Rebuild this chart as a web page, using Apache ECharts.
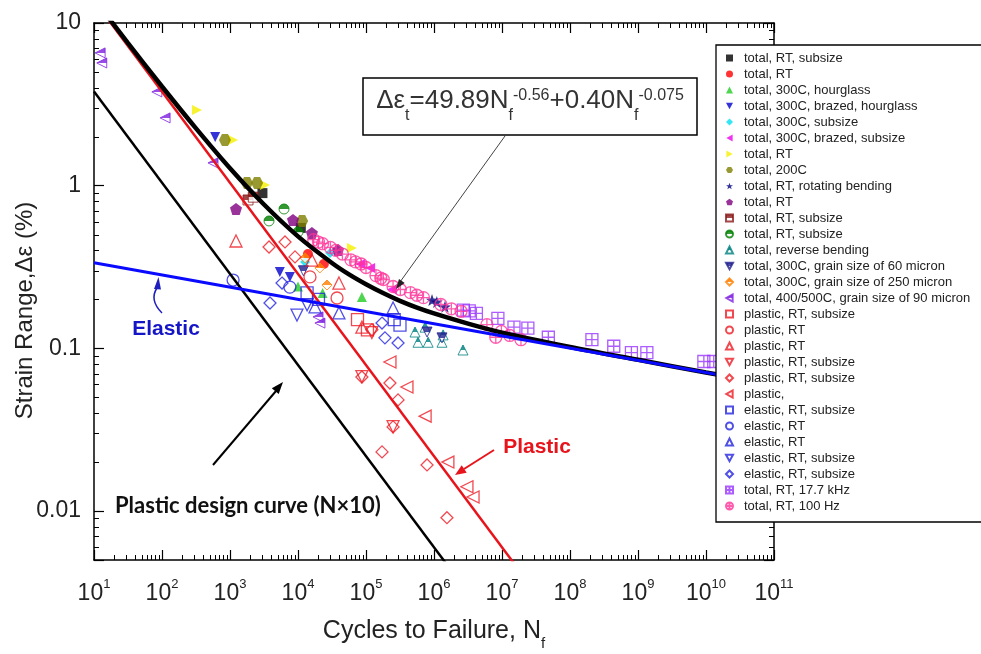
<!DOCTYPE html>
<html>
<head>
<meta charset="utf-8">
<script src="https://cdn.jsdelivr.net/npm/echarts@6/dist/echarts.min.js"></script>
<style>
  html, body { margin: 0; padding: 0; background: #fff; }
  #chart { width: 981px; height: 654px; }
</style>
</head>
<body>
<div id="chart"></div>
<script>
const FONT = "'Liberation Sans', Arial, sans-serif";

// axis ranges and tick labels
const X_MIN = 10, X_MAX = 1e11, Y_MIN = 0.005, Y_MAX = 10;
const xTickExps = [1, 2, 3, 4, 5, 6, 7, 8, 9, 10, 11];
const yTickExps = [-2, -1, 0, 1];
const yTickLabels = ["0.01", "0.1", "1", "10"];

// fitted curves
const totalN = [10, 31.6, 100, 316, 1000, 3162, 1e4, 3.16e4, 5.62e4, 1e5, 1.78e5, 3.16e5, 5.62e5, 1e6, 3.16e6, 1e7, 1e8, 1e9, 1e10, 1e11];
const totalY = [14.1, 7.52, 4.07, 2.25, 1.28, 0.766, 0.488, 0.335, 0.285, 0.248, 0.219, 0.196, 0.178, 0.164, 0.142, 0.125, 0.102, 0.085, 0.071, 0.060];
const elasticN = [10, 1e11];
const elasticY = [0.336, 0.0598];
const plasticN = [10, 2e7];
const plasticY = [13.74, 0.00406];
const designN = [10, 2e6];
const designY = [3.79, 0.00406];

// test data [cycles, strain range %]
const totalRtSubsizeA = [[3000, 0.9], [11000, 0.55]];
const totalRtA = [[14000, 0.38], [24000, 0.33]];
const total300cHourglass = [[10000, 0.24], [23000, 0.219], [87000, 0.207]];
const total300cBrazedHourglass = [[605, 1.99], [5400, 0.295], [7600, 0.275]];
const total300cSubsize = [[12700, 0.34], [29600, 0.385]];
const total300cBrazedSubsize = [[82000, 0.33], [115000, 0.312], [240000, 0.23]];
const totalRtB = [[327, 2.92], [1110, 1.91], [3270, 1.01], [62000, 0.414]];
const total200c = [[843, 1.91], [1780, 1.04], [2500, 1.04], [11500, 0.607]];
const totalRtRotBending = [[935000, 0.198], [1100000, 0.193], [1450000, 0.18]];
const totalRtC = [[1225, 0.719], [8440, 0.615], [16000, 0.512], [38800, 0.403]];
const totalRtSubsizeB = [[1840, 0.817], [2200, 0.85]];
const totalRtSubsizeC = [[3750, 0.607], [6230, 0.719], [10000, 0.519]];
const totalReverseBending = [[526000, 0.126], [582000, 0.109], [740000, 0.135], [820000, 0.109], [1310000, 0.109], [1360000, 0.121], [2670000, 0.0977]];
const total300cGrain60 = [[12000, 0.3], [790000, 0.126], [1310000, 0.116]];
const total300cGrain250 = [[12700, 0.36], [21000, 0.312], [26700, 0.245]];
const total400cGrain90 = [[12.3, 6.55], [13, 5.68], [84, 3.77], [111, 2.61], [562, 1.38], [19700, 0.156], [21000, 0.143]];
const plasticRtSubsizeA = [[75000, 0.15], [105000, 0.13]];
const plasticRtA = [[15000, 0.275], [37500, 0.204]];
const plasticRtB = [[1225, 0.457], [16000, 0.349], [40000, 0.252], [87000, 0.135]];
const plasticRtSubsizeB = [[87000, 0.067], [250000, 0.033], [122000, 0.125]];
const plasticRtSubsizeC = [[3750, 0.42], [6440, 0.451], [9040, 0.365], [122000, 0.13], [87000, 0.0667], [225000, 0.0612], [296000, 0.0482], [250000, 0.0329], [172000, 0.0231], [790000, 0.0192], [1550000, 0.0091]];
const plasticMisc = [[225000, 0.0824], [400000, 0.0579], [740000, 0.0383], [1600000, 0.02], [3050000, 0.0141], [3750000, 0.0122]];
const elasticRtSubsizeA = [[13600, 0.219], [20000, 0.2], [260000, 0.15], [316000, 0.139]];
const elasticRtA = [[1110, 0.263], [7600, 0.238]];
const elasticRtB = [[17800, 0.18], [40000, 0.165], [250000, 0.177]];
const elasticRtSubsizeB = [[9660, 0.16], [13600, 0.185]];
const elasticRtSubsizeC = [[3875, 0.19], [5820, 0.252], [172000, 0.143], [190000, 0.116], [296000, 0.108]];
const total17kHz = [[2700000, 0.172], [3300000, 0.17], [4200000, 0.164], [8700000, 0.153], [15000000, 0.135], [24000000, 0.133], [48000000, 0.117], [210000000, 0.113], [440000000, 0.103], [800000000, 0.094], [1350000000, 0.094], [9300000000, 0.083], [13000000000, 0.083]];
const total100Hz = [[17000, 0.466], [20000, 0.45], [23000, 0.44], [30000, 0.417], [36000, 0.4], [45000, 0.38], [60000, 0.35], [70000, 0.34], [85000, 0.33], [100000, 0.314], [140000, 0.28], [165000, 0.27], [180000, 0.265], [250000, 0.24], [320000, 0.23], [450000, 0.22], [560000, 0.212], [700000, 0.205], [1260000, 0.186], [1800000, 0.175], [2500000, 0.169], [6000000, 0.14], [8100000, 0.117], [9800000, 0.127], [13000000, 0.12], [19000000, 0.113]];

// symbols
const TRI_UP = "triangle";
const TRI_DOWN = "path://M-5,-4.5L5,-4.5L0,4.5Z";
const TRI_LEFT = "path://M4.5,-5L4.5,5L-4.5,0Z";
const TRI_RIGHT = "path://M-4.5,-5L-4.5,5L4.5,0Z";
const HEX = "path://M-5,-8.66L5,-8.66L10,0L5,8.66L-5,8.66L-10,0Z";
const PENT = "path://M0,-10L9.51,-3.09L5.88,8.09L-5.88,8.09L-9.51,-3.09Z";
const STAR = "path://M0,-10L2.35,-3.24L9.51,-3.09L3.8,1.24L5.88,8.09L0,4L-5.88,8.09L-3.8,1.24L-9.51,-3.09L-2.35,-3.24Z";
const GRID_SQ = "path://M-5,-5L5,-5L5,5L-5,5Z M0,-5L0,5 M-5,0L5,0";
const GRID_CIRC = "path://M-5,0A5,5 0 1,1 5,0A5,5 0 1,1 -5,0Z M0,-5L0,5 M-5,0L5,0";

const RED = "#ee1c24", BLUE = "#2424e0";

// name, data, symbol, colour, fill
const markers = [
  ["total, RT, subsize", totalRtSubsizeA, "rect", "#000000", "solid"],
  ["total, RT", totalRtA, "circle", "#ff0000", "solid"],
  ["total, 300C, hourglass", total300cHourglass, TRI_UP, "#22cc22", "solid"],
  ["total, 300C, brazed, hourglass", total300cBrazedHourglass, TRI_DOWN, "#0000cc", "solid"],
  ["total, 300C, subsize", total300cSubsize, "diamond", "#00e0f0", "solid"],
  ["total, 300C, brazed, subsize", total300cBrazedSubsize, TRI_LEFT, "#ee00ee", "solid"],
  ["total, RT", totalRtB, TRI_RIGHT, "#f5f000", "solid"],
  ["total, 200C", total200c, HEX, "#808000", "solid"],
  ["total, RT, rotating bending", totalRtRotBending, STAR, "#000080", "solid"],
  ["total, RT", totalRtC, PENT, "#800080", "solid"],
  ["total, RT, subsize", totalRtSubsizeB, "rect", "#8b1a1a", "half"],
  ["total, RT, subsize", totalRtSubsizeC, "circle", "#008000", "half"],
  ["total, reverse bending", totalReverseBending, TRI_UP, "#008080", "half"],
  ["total, 300C, grain size of 60 micron", total300cGrain60, TRI_DOWN, "#202090", "half"],
  ["total, 300C, grain size of 250 micron", total300cGrain250, "diamond", "#ff8000", "half"],
  ["total, 400/500C, grain size of 90 micron", total400cGrain90, TRI_LEFT, "#8020e0", "half"],
  ["plastic, RT, subsize", plasticRtSubsizeA, "rect", RED, "open"],
  ["plastic, RT", plasticRtA, "circle", RED, "open"],
  ["plastic, RT", plasticRtB, TRI_UP, RED, "open"],
  ["plastic, RT, subsize", plasticRtSubsizeB, TRI_DOWN, RED, "open"],
  ["plastic, RT, subsize", plasticRtSubsizeC, "diamond", RED, "open"],
  ["plastic,", plasticMisc, TRI_LEFT, RED, "open"],
  ["elastic, RT, subsize", elasticRtSubsizeA, "rect", BLUE, "open"],
  ["elastic, RT", elasticRtA, "circle", BLUE, "open"],
  ["elastic, RT", elasticRtB, TRI_UP, BLUE, "open"],
  ["elastic, RT, subsize", elasticRtSubsizeB, TRI_DOWN, BLUE, "open"],
  ["elastic, RT, subsize", elasticRtSubsizeC, "diamond", BLUE, "open"],
  ["total, RT, 17.7 kHz", total17kHz, GRID_SQ, "#9933ff", "open"],
  ["total, RT, 100 Hz", total100Hz, GRID_CIRC, "#ff3399", "open"]
];

// legend names must be unique: pad repeats with trailing spaces
const seen = {};
const legendNames = markers.map((m) => {
  seen[m[0]] = (seen[m[0]] || 0) + 1;
  return m[0] + " ".repeat(seen[m[0]] - 1);
});

function halfFill(c) {
  return {
    type: "linear", x: 0, y: 0, x2: 0, y2: 1,
    colorStops: [
      { offset: 0, color: c }, { offset: 0.5, color: c },
      { offset: 0.5, color: "#ffffff" }, { offset: 1, color: "#ffffff" }
    ]
  };
}

const zip = (a, b) => a.map((v, i) => [v, b[i]]);

const scatterSeries = markers.map((m, i) => {
  const [, data, symbol, color, fill] = m;
  let itemStyle;
  if (fill === "open") itemStyle = { color: "rgba(255,255,255,0)", borderColor: color, borderWidth: 1.3 };
  else if (fill === "half") itemStyle = { color: halfFill(color), borderColor: color, borderWidth: 1 };
  else itemStyle = { color: color };
  const big = fill === "open" || symbol === HEX || symbol === PENT || symbol === STAR;
  return {
    type: "scatter",
    name: legendNames[i],
    data: data,
    symbol: symbol,
    symbolSize: big ? 12 : 10,
    itemStyle: itemStyle,
    silent: true,
    z: 2
  };
});

// minor ticks (2..9 per decade) drawn on all four frame sides
const xMinor = [];
for (let e = 1; e < 11; e++) for (let k = 2; k < 10; k++) xMinor.push([k * Math.pow(10, e), Y_MIN]);
const yMinor = [];
for (let e = -3; e < 1; e++) for (let k = 2; k < 10; k++) {
  const v = k * Math.pow(10, e);
  if (v > Y_MIN && v < Y_MAX) yMinor.push([X_MIN, v]);
}
const TICK_STYLE = { stroke: "#000", lineWidth: 1 };

const minorX = {
  type: "custom", silent: true, clip: false, z: 3, data: xMinor,
  renderItem: (params, api) => {
    const cs = params.coordSys;
    const px = Math.round(api.coord([api.value(0), Y_MIN])[0]) + 0.5;
    return { type: "group", children: [
      { type: "line", shape: { x1: px, y1: cs.y + cs.height, x2: px, y2: cs.y + cs.height - 5 }, style: TICK_STYLE },
      { type: "line", shape: { x1: px, y1: cs.y, x2: px, y2: cs.y + 5 }, style: TICK_STYLE }
    ] };
  }
};
const minorY = {
  type: "custom", silent: true, clip: false, z: 3, data: yMinor,
  renderItem: (params, api) => {
    const cs = params.coordSys;
    const py = Math.round(api.coord([X_MIN, api.value(1)])[1]) + 0.5;
    return { type: "group", children: [
      { type: "line", shape: { x1: cs.x, y1: py, x2: cs.x + 5, y2: py }, style: TICK_STYLE },
      { type: "line", shape: { x1: cs.x + cs.width, y1: py, x2: cs.x + cs.width - 5, y2: py }, style: TICK_STYLE }
    ] };
  }
};

const lineSeries = [
  { type: "line", name: "plastic fit", data: zip(plasticN, plasticY), showSymbol: false, silent: true, z: 3,
    lineStyle: { color: "#e8141c", width: 2.5 } },
  { type: "line", name: "design", data: zip(designN, designY), showSymbol: false, silent: true, z: 3,
    lineStyle: { color: "#000", width: 2.5 } },
  { type: "line", name: "total fit", data: zip(totalN, totalY), showSymbol: false, silent: true, z: 3, smooth: 0.3,
    lineStyle: { color: "#000", width: 4.5 } },
  { type: "line", name: "elastic fit", data: zip(elasticN, elasticY), showSymbol: false, silent: true, z: 3,
    lineStyle: { color: "#0a0aff", width: 3 } }
];

const isDecade = (v) => { const e = Math.log10(v); return Math.abs(e - Math.round(e)) < 1e-6; };

const frameLine = { show: true, lineStyle: { color: "#000", width: 1.5 } };
const majorTick = { show: true, inside: true, length: 10, lineStyle: { color: "#000", width: 1.2 } };

const xBase = { type: "log", min: X_MIN, max: X_MAX, interval: 1, gridIndex: 0, splitLine: { show: false },
  axisLine: frameLine, axisTick: majorTick };
const yBase = { type: "log", min: Y_MIN, max: Y_MAX, splitNumber: 3, gridIndex: 0, splitLine: { show: false },
  axisLine: frameLine, axisTick: majorTick };

const option = {
  animation: false,
  backgroundColor: "#fff",
  grid: { left: 94, top: 23, width: 680, height: 537, containLabel: false, outerBoundsMode: "none" },
  xAxis: [
    Object.assign({}, xBase, {
      position: "bottom",
      name: "{a|Cycles to Failure, N}{s|f}",
      nameLocation: "middle",
      nameGap: 59,
      nameMoveOverlap: false,
      nameTextStyle: {
        rich: {
          a: { fontFamily: FONT, fontSize: 25, lineHeight: 28, verticalAlign: "top", color: "#222" },
          s: { fontFamily: FONT, fontSize: 15, lineHeight: 15, padding: [17, 0, 0, 0], verticalAlign: "top", color: "#222" }
        }
      },
      axisLabel: {
        margin: 18,
        formatter: (v) => {
          const e = Math.round(Math.log10(v));
          return isDecade(v) && xTickExps.indexOf(e) >= 0 ? "{b|10}{s|" + e + "}" : "";
        },
        rich: {
          b: { fontFamily: FONT, fontSize: 23, lineHeight: 27, verticalAlign: "bottom", color: "#222" },
          s: { fontFamily: FONT, fontSize: 13, lineHeight: 16, verticalAlign: "top", color: "#222" }
        }
      }
    }),
    Object.assign({}, xBase, { position: "top", axisLabel: { show: false } })
  ],
  yAxis: [
    Object.assign({}, yBase, {
      position: "left",
      name: "Strain Range,\u0394\u03b5 (%)",
      nameLocation: "middle",
      nameRotate: 90,
      nameGap: 57,
      nameMoveOverlap: false,
      nameTextStyle: { fontFamily: FONT, fontSize: 24, color: "#222", padding: [0, 38, 0, 0] },
      axisLabel: {
        margin: 13,
        fontFamily: FONT, fontSize: 23, color: "#222",
        formatter: (v) => {
          if (!isDecade(v)) return "";
          const i = yTickExps.indexOf(Math.round(Math.log10(v)));
          return i >= 0 ? yTickLabels[i] : "";
        }
      }
    }),
    Object.assign({}, yBase, { position: "right", axisLabel: { show: false } })
  ],
  legend: {
    orient: "vertical",
    left: 716,
    top: 45,
    padding: [5, 60, 8, 9],
    itemGap: 0,
    itemWidth: 7,
    itemHeight: 7,
    selectedMode: false,
    backgroundColor: "#fff",
    borderColor: "#000",
    borderWidth: 1.3,
    z: 10,
    textStyle: { fontFamily: FONT, fontSize: 13, color: "#222", lineHeight: 16, padding: [0, 0, 0, 6] },
    data: legendNames
  },
  graphic: [
    // equation box
    { type: "rect", z: 100, shape: { x: 363, y: 78, width: 334, height: 57 },
      style: { fill: "#fff", stroke: "#000", lineWidth: 1.5 } },
    { type: "text", z: 101, x: 530, y: 88,
      style: {
        text: "{m|\u0394\u03b5}{sb|t}{m|=49.89N}{sb|f}{sp|-0.56}{m|+0.40N}{sb|f}{sp|-0.075}",
        align: "center", verticalAlign: "top",
        rich: {
          m: { fontFamily: FONT, fontSize: 26, lineHeight: 30, verticalAlign: "top", fill: "#333" },
          sp: { fontFamily: FONT, fontSize: 16, lineHeight: 16, verticalAlign: "top", fill: "#333" },
          sb: { fontFamily: FONT, fontSize: 16, lineHeight: 16, padding: [20, 0, 0, 0], verticalAlign: "top", fill: "#333" }
        }
      } },
    // arrow from equation to curve
    { type: "line", z: 100, shape: { x1: 505, y1: 136, x2: 400, y2: 282 }, style: { stroke: "#444", lineWidth: 1 } },
    { type: "polygon", z: 100, shape: { points: [[396, 289], [404.7, 282.9], [399, 278.9]] }, style: { fill: "#222" } },
    // elastic label + arrow
    { type: "bezierCurve", z: 100, shape: { x1: 162, y1: 313, cpx1: 152, cpy1: 303, cpx2: 153, cpy2: 294, x2: 157, y2: 288 },
      style: { stroke: "#1f1fc0", lineWidth: 1.5, fill: null } },
    { type: "polygon", z: 100, shape: { points: [[158.5, 277], [154, 289], [161, 289.5]] }, style: { fill: "#1f1fc0" } },
    { type: "text", z: 100, x: 166, y: 329,
      style: { text: "Elastic", fontFamily: FONT, fontSize: 21, fontWeight: "bold", fill: "#1515c8", align: "center", verticalAlign: "middle" } },
    // plastic label + arrow
    { type: "line", z: 100, shape: { x1: 494, y1: 450, x2: 464, y2: 469 }, style: { stroke: "#e8141c", lineWidth: 2 } },
    { type: "polygon", z: 100, shape: { points: [[455, 475], [466.7, 472.7], [461.7, 465.2]] }, style: { fill: "#e8141c" } },
    { type: "text", z: 100, x: 537, y: 447,
      style: { text: "Plastic", fontFamily: FONT, fontSize: 21, fontWeight: "bold", fill: "#e8141c", align: "center", verticalAlign: "middle" } },
    // design curve label + arrow
    { type: "line", z: 100, shape: { x1: 213, y1: 465, x2: 276, y2: 391 }, style: { stroke: "#000", lineWidth: 2 } },
    { type: "polygon", z: 100, shape: { points: [[283, 382], [278.7, 394.1], [271.8, 388.3]] }, style: { fill: "#000" } },
    { type: "text", z: 100, x: 115, y: 506,
      style: { text: "Plastic design curve (N\u00d710)", fontFamily: "Lato, 'Open Sans', sans-serif", fontSize: 22, fontWeight: "bold", fill: "#111", align: "left", verticalAlign: "middle" } }
  ],
  series: scatterSeries.concat(lineSeries, [minorX, minorY])
};

const chart = echarts.init(document.getElementById("chart"), null, { renderer: "canvas" });
chart.setOption(option);
window.addEventListener("resize", () => chart.resize());
</script>
</body>
</html>
